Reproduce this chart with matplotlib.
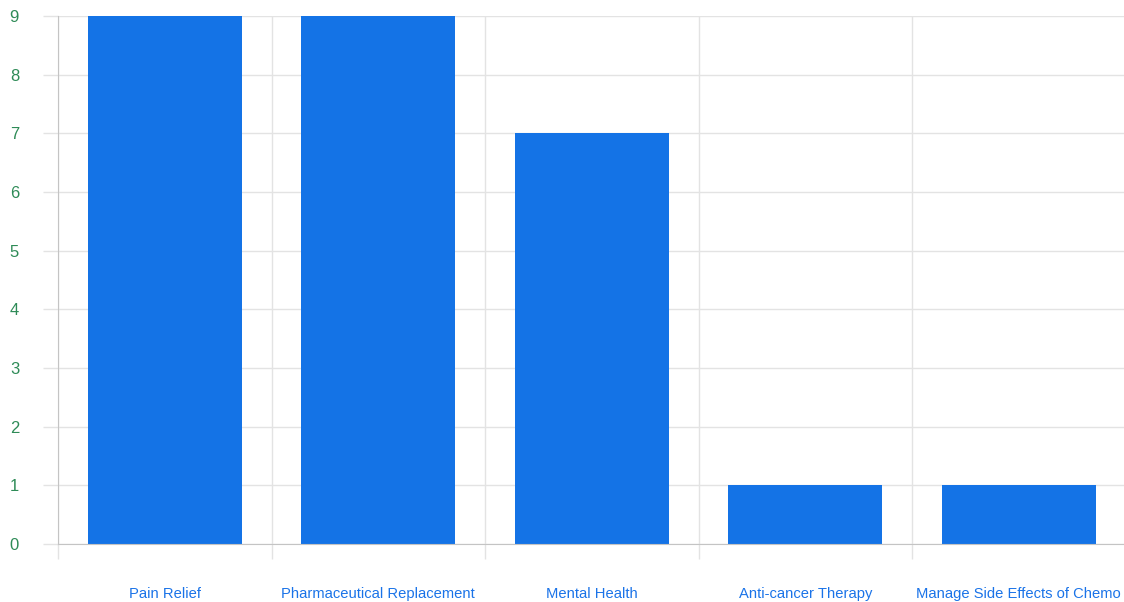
import numpy as np
import matplotlib.pyplot as plt

# Data
categories = ['Pain Relief', 'Pharmaceutical Replacement', 'Mental Health',
              'Anti-cancer Therapy', 'Manage Side Effects of Chemo']
values = [9, 9, 7, 1, 1]
y_ticks = list(range(0, 10))

plt.rcParams['font.family'] = ['Liberation Sans', 'DejaVu Sans']

bar_color = '#1473e6'
grid_color = '#e3e3e3'
axis_color = '#c4c4c4'
ylabel_color = '#2e8b57'
xlabel_color = '#1a73e8'

fig = plt.figure(figsize=(11.24, 6.02), dpi=100)
left = 58 / 1124
bottom = (602 - 544) / 602
ax = fig.add_axes([left, bottom, (1125.5 - 58) / 1124, 528 / 602])

x = np.arange(len(categories))
ax.bar(x, values, width=0.72, color=bar_color, zorder=3)

ax.set_xlim(-0.5, len(categories) - 0.5)
ax.set_ylim(0, 9)

# gridlines
ax.set_yticks(y_ticks)
ax.yaxis.grid(True, color=grid_color, linewidth=1, zorder=0)
ax.set_xticks(np.arange(len(categories) + 1) - 0.5)
ax.set_xticklabels([])
ax.xaxis.grid(True, color=grid_color, linewidth=1, zorder=0)
ax.set_xticks(x, minor=True)
ax.set_xticklabels(categories, minor=True)

ax.tick_params(axis='x', which='major', length=11, color=grid_color, width=1)
ax.tick_params(axis='x', which='minor', length=0, pad=31, labelsize=10.6,
               labelcolor=xlabel_color)
ax.tick_params(axis='y', length=11, color=grid_color, width=1, pad=17,
               labelsize=12, labelcolor=ylabel_color)

for s in ['top', 'right']:
    ax.spines[s].set_visible(False)
ax.spines['left'].set_color(axis_color)
ax.spines['bottom'].set_color(axis_color)
ax.spines['left'].set_zorder(4)
ax.spines['bottom'].set_zorder(4)

fig.savefig('out.png', dpi=100)
